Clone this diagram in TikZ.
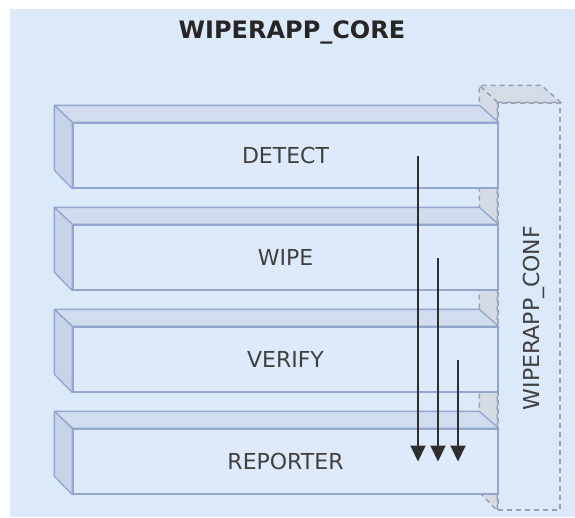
\documentclass[tikz,border=0pt]{standalone}
\usepackage{fontspec}
\setmainfont{DejaVu Sans}
\usetikzlibrary{arrows.meta}
\definecolor{bgblue}{RGB}{220,233,249}
\definecolor{frontblue}{RGB}{222,234,249}
\definecolor{topblue}{RGB}{209,221,238}
\definecolor{sideblue}{RGB}{199,211,232}
\definecolor{edgeblue}{RGB}{146,166,206}
\definecolor{confgray}{RGB}{150,160,178}
\definecolor{conftop}{RGB}{212,220,232}
\definecolor{txtgray}{RGB}{64,64,64}
\tikzset{
  layer/.style={draw=edgeblue,fill=frontblue,line width=1.3pt,
    minimum width=425pt,minimum height=65pt,inner sep=0pt,
    font=\fontsize{22}{26}\selectfont,text=txtgray},
  topface/.style={draw=edgeblue,fill=topblue,line width=1.3pt,line join=round},
  sideface/.style={draw=edgeblue,fill=sideblue,line width=1.3pt,line join=round},
  confline/.style={draw=confgray,dashed,dash pattern=on 5pt off 4pt,line width=1.4pt},
  flow/.style={draw=black!82,line width=1.9pt,-{Triangle[width=15pt,length=16pt]}}
}
\begin{document}
\begin{tikzpicture}[x=1pt,y=-1pt]
  \useasboundingbox (0,0) rectangle (575,517);
  \fill[bgblue] (10,9) rectangle (575,517);
  \node[font=\bfseries\fontsize{24}{28}\selectfont,text=black!85] (title) at (292,32) {WIPERAPP\_CORE};

  % configuration block behind the layers
  \node[confline,minimum width=62pt,minimum height=407pt,inner sep=0pt] (conf) at (529,306.5) {};
  \filldraw[confline,fill=conftop] (conf.north west) -- ++(-18,-17) -- ++(62,0) -- (conf.north east) -- cycle;
  \filldraw[confline,fill=sideblue!80!gray!60] (conf.north west) -- ++(-18,-17) -- ++(0,407) -- (conf.south west) -- cycle;
  \node[rotate=90,font=\fontsize{22}{26}\selectfont,text=txtgray] (conflabel) at (534,318) {WIPERAPP\_CONF};

  % layers
  \node[layer] (detect) at (285.5,155.5) {DETECT};
  \node[layer] (wipe) at (285.5,257.5) {WIPE};
  \node[layer] (verify) at (285.5,359.5) {VERIFY};
  \node[layer] (reporter) at (285.5,461.5) {REPORTER};
  \filldraw[topface] (detect.north west) -- ++(-18,-17) -- ++(425,0) -- (detect.north east) -- cycle;
  \filldraw[sideface] (detect.north west) -- ++(-18,-17) -- ++(0,65) -- (detect.south west) -- cycle;
  \filldraw[topface] (wipe.north west) -- ++(-18,-17) -- ++(425,0) -- (wipe.north east) -- cycle;
  \filldraw[sideface] (wipe.north west) -- ++(-18,-17) -- ++(0,65) -- (wipe.south west) -- cycle;
  \filldraw[topface] (verify.north west) -- ++(-18,-17) -- ++(425,0) -- (verify.north east) -- cycle;
  \filldraw[sideface] (verify.north west) -- ++(-18,-17) -- ++(0,65) -- (verify.south west) -- cycle;
  \filldraw[topface] (reporter.north west) -- ++(-18,-17) -- ++(425,0) -- (reporter.north east) -- cycle;
  \filldraw[sideface] (reporter.north west) -- ++(-18,-17) -- ++(0,65) -- (reporter.south west) -- cycle;

  % calls down to the reporter
  \coordinate (c1) at (418,0);
  \coordinate (c2) at (438,0);
  \coordinate (c3) at (458,0);
  \draw[flow] (detect.center -| c1) -- (reporter.center -| c1);
  \draw[flow] (wipe.center -| c2) -- (reporter.center -| c2);
  \draw[flow] (verify.center -| c3) -- (reporter.center -| c3);
\end{tikzpicture}
\end{document}
